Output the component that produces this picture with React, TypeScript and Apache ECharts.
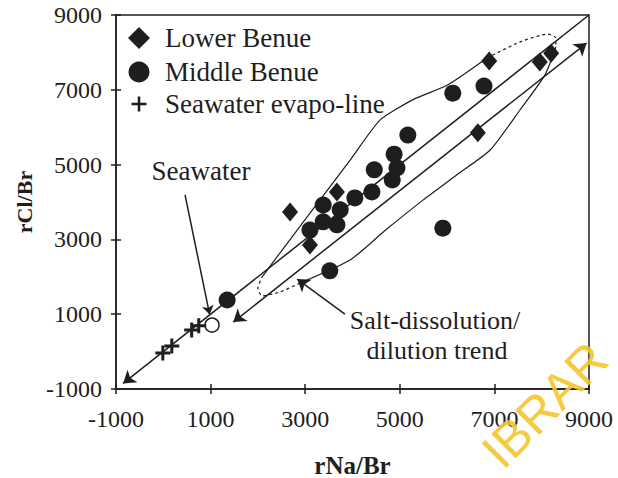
import React, { useEffect, useRef } from "react";
import * as echarts from "echarts";

// ---------- data ----------
const axisMin = -1000;
const axisMax = 9000;
const axisStep = 2000;

const lowerBenue: number[][] = [
  [2680, 3730], [3100, 2850], [3670, 4270], [6650, 5850],
  [6890, 7770], [7960, 7740], [8200, 7980],
];

const middleBenue: number[][] = [
  [1350, 1380], [3520, 2160], [3100, 3250], [3380, 3920], [3740, 3790],
  [3380, 3470], [3670, 3390], [4050, 4110], [4410, 4270], [4460, 4860],
  [4840, 4590], [4940, 4910], [4880, 5280], [5170, 5790], [6120, 6910],
  [6780, 7100], [5910, 3300],
];

const seawaterEvapo: number[][] = [
  [-10, -40], [180, 150], [600, 580], [750, 690],
];

const seawater: number[][] = [[1030, 710]];

// annotation lines (data coordinates)
const evapoLine: number[][] = [[9000, 9000], [-850, -850]];
const dissolutionTrend: number[][] = [[1480, 790], [8950, 8250]];
const saltPointer: number[][] = [[3840, 1000], [2830, 1940]];
const seawaterPointer: number[][] = [[460, 4190], [980, 990]];

// envelope (ellipse) around the samples
const envelopeUpper: number[][] = [
  [2090, 2000], [2700, 3030], [3310, 4050], [3950, 5120], [4580, 6190],
  [5300, 6750], [6000, 7120], [6845, 7850],
];
const envelopeTopCap: number[][] = [[6845, 7850], [7540, 8280], [8130, 8490], [8300, 8385], [8300, 8145]];
const envelopeLower: number[][] = [
  [8300, 8145], [8070, 7400], [7540, 6460], [6910, 5390], [6200, 4720],
  [5490, 4050], [4700, 3250], [3950, 2450], [2890, 1835],
];
const envelopeBottomCap: number[][] = [[2890, 1835], [2470, 1595], [2090, 1490], [2000, 1700], [2090, 2000]];

const legendNames = ["Lower Benue", "Middle Benue", "Seawater evapo-line"];

// ---------- styles ----------
const FONT = "'Liberation Serif', 'Times New Roman', serif";
const INK = "#1e1e1e";
const plusPath = "path://M4,0H6V4H10V6H6V10H4V6H0V4H4Z";

const plainLabel = (v: number) => String(v);

function valueAxis(extra: any) {
  return {
    type: "value",
    min: axisMin,
    max: axisMax,
    interval: axisStep,
    splitLine: { show: false },
    ...extra,
  };
}

function annotationLine(coords: number[][], symbol: string[], size = 12) {
  return {
    type: "lines",
    coordinateSystem: "cartesian2d",
    data: [{ coords }],
    symbol,
    symbolSize: size,
    lineStyle: { color: INK, width: 1.5, opacity: 1 },
    itemStyle: { color: INK },
    z: 2,
    silent: true,
  };
}

function envelope(data: number[][], dashed: boolean) {
  return {
    type: "line",
    data,
    smooth: 0.2,
    symbol: "none",
    lineStyle: { color: INK, width: 1.2, type: dashed ? [3, 3] : "solid" },
    z: 2,
    silent: true,
  };
}

export default function App() {
  const ref = useRef<HTMLDivElement>(null);

  useEffect(() => {
    const chart = echarts.init(ref.current!, null, { renderer: "svg" });
    const tickStyle = { color: INK, width: 1.5 };
    const centered = { align: "center", verticalAlign: "middle", textAlign: "center", textVerticalAlign: "middle" };
    const leftMid = { align: "left", verticalAlign: "middle", textAlign: "left", textVerticalAlign: "middle" };
    const serif = { fontFamily: FONT, fontStyle: "normal", fontWeight: "normal", color: INK };

    // legend (drawn as graphics): icon centre x, row centres y
    const legX = 139;
    const legTextX = 165;
    const legRows = [38, 72, 104];
    const legendGraphics: any[] = [
      {
        type: "polygon",
        shape: { points: [[legX, legRows[0] - 11], [legX + 11, legRows[0]], [legX, legRows[0] + 11], [legX - 11, legRows[0]]] },
        style: { fill: INK },
      },
      { type: "circle", shape: { cx: legX, cy: legRows[1], r: 10.5 }, style: { fill: INK } },
      { type: "rect", shape: { x: legX - 7.5, y: legRows[2] - 1.3, width: 15, height: 2.6 }, style: { fill: INK } },
      { type: "rect", shape: { x: legX - 1.3, y: legRows[2] - 7.5, width: 2.6, height: 15 }, style: { fill: INK } },
      ...legendNames.map((name, i) => ({
        type: "text", x: legTextX, y: legRows[i],
        style: { text: name, font: `27px ${FONT}`, fill: INK, ...leftMid },
      })),
    ];

    chart.setOption({
      animation: false,
      backgroundColor: "#ffffff",
      textStyle: { fontFamily: FONT, color: INK },
      grid: {
        left: 116, right: 29, top: 15, bottom: 89,
        show: true, borderColor: INK, borderWidth: 1.5,
        outerBoundsMode: "none",
        containLabel: false,
      },
      xAxis: [
        valueAxis({
          name: "rNa/Br",
          nameLocation: "middle",
          nameGap: 64,
          nameTextStyle: { fontFamily: FONT, fontSize: 25, fontWeight: "bold", color: INK },
          axisLine: { show: true, onZero: false, lineStyle: tickStyle },
          axisTick: { show: true, length: 5, lineStyle: tickStyle },
          axisLabel: { ...serif, fontSize: 24, margin: 18, formatter: plainLabel },
        }),
        valueAxis({
          position: "bottom",
          axisLine: { show: false, onZero: false },
          axisTick: { show: true, inside: true, length: 5, lineStyle: tickStyle },
          axisLabel: { show: false },
        }),
      ],
      yAxis: [
        valueAxis({
          name: "rCl/Br",
          nameLocation: "middle",
          nameGap: 80,
          nameTextStyle: { fontFamily: FONT, fontSize: 22, fontWeight: "bold", color: INK },
          axisLine: { show: true, onZero: false, lineStyle: tickStyle },
          axisTick: { show: true, length: 5, lineStyle: tickStyle },
          axisLabel: { ...serif, fontSize: 24, margin: 14, formatter: plainLabel },
        }),
        valueAxis({
          position: "left",
          axisLine: { show: false, onZero: false },
          axisTick: { show: true, inside: true, length: 5, lineStyle: tickStyle },
          axisLabel: { show: false },
        }),
      ],
      series: [
        envelope(envelopeUpper, false),
        envelope(envelopeTopCap, true),
        envelope(envelopeLower, false),
        envelope(envelopeBottomCap, true),
        annotationLine(evapoLine, ["none", "arrow"]),
        annotationLine(dissolutionTrend, ["arrow", "arrow"]),
        annotationLine(saltPointer, ["none", "arrow"]),
        annotationLine(seawaterPointer, ["none", "arrow"], 9),
        {
          type: "scatter", name: legendNames[0], data: lowerBenue,
          symbol: "diamond", symbolSize: [16, 19], itemStyle: { color: INK, opacity: 1 }, z: 4,
        },
        {
          type: "scatter", name: legendNames[1], data: middleBenue,
          symbol: "circle", symbolSize: 17, itemStyle: { color: INK, opacity: 1 }, z: 4,
        },
        {
          type: "scatter", name: legendNames[2], data: seawaterEvapo,
          symbol: plusPath, symbolSize: 15, itemStyle: { color: INK, opacity: 1 }, z: 4,
        },
        {
          type: "scatter", name: "Seawater", data: seawater,
          symbol: "circle", symbolSize: 14,
          itemStyle: { color: "rgba(255,255,255,0)", borderColor: INK, borderWidth: 1.5, opacity: 1 }, z: 4,
        },
      ],
      graphic: [
        ...legendGraphics,
        {
          type: "text", x: 201, y: 171,
          style: { text: "Seawater", font: `27px ${FONT}`, fill: INK, ...centered },
        },
        {
          type: "text", x: 435, y: 320,
          style: { text: "Salt-dissolution/", font: `26px ${FONT}`, fill: INK, ...centered },
        },
        {
          type: "text", x: 437, y: 350,
          style: { text: "dilution trend", font: `26px ${FONT}`, fill: INK, ...centered },
        },
        {
          type: "text", x: 545, y: 405, rotation: Math.PI / 4, z: 100,
          style: {
            text: "IBRAR", font: `50px 'Liberation Sans', sans-serif`, fill: "#f6c42a", opacity: 0.9,
            ...centered,
          },
        },
      ],
    });
    return () => chart.dispose();
  }, []);

  return (
    <div
      ref={ref}
      style={{ position: "absolute", left: 0, top: 0, width: 618, height: 478, background: "#fff" }}
    />
  );
}
